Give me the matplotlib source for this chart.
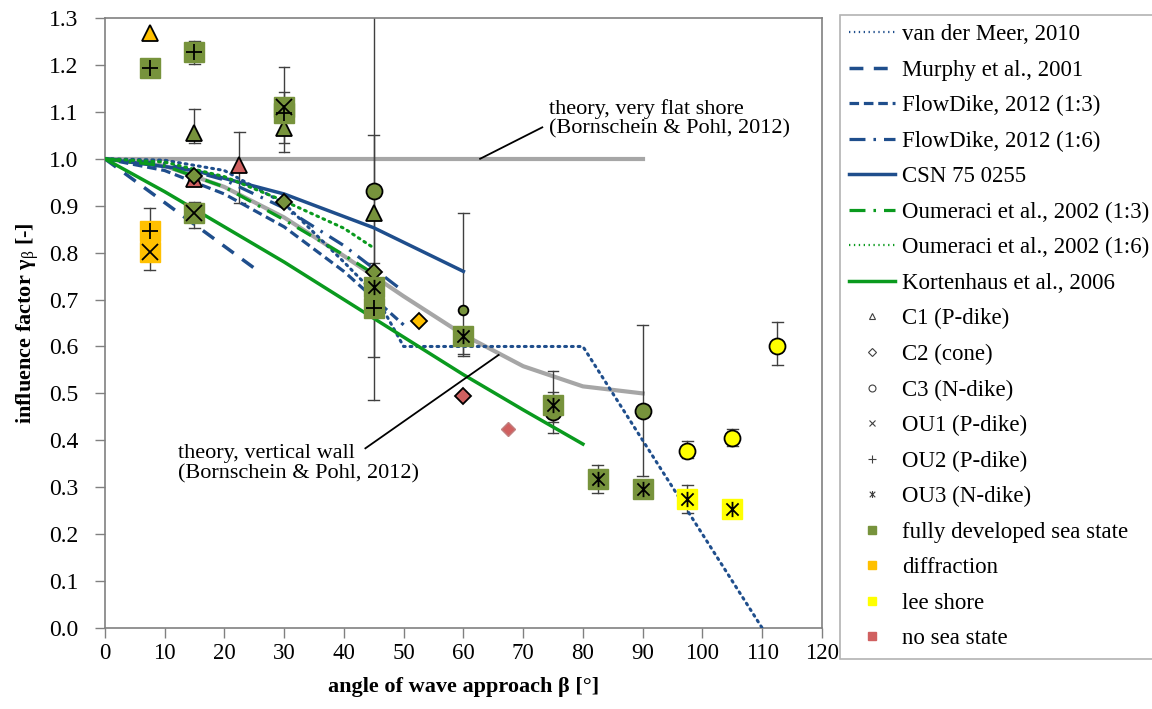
import numpy as np
import matplotlib
matplotlib.use("Agg")
import matplotlib.pyplot as plt
from matplotlib.lines import Line2D
from matplotlib.path import Path

plt.rcParams['font.family'] = ['Liberation Serif', 'DejaVu Serif']
plt.rcParams['mathtext.fontset'] = 'custom'
plt.rcParams['mathtext.rm'] = 'Liberation Serif'
plt.rcParams['mathtext.it'] = 'Liberation Serif:italic'
plt.rcParams['mathtext.bf'] = 'Liberation Serif:bold'

# =====================================================
# DATA
# =====================================================

# design formulae
vdm_x = [0, 10, 20, 30, 40, 45, 50, 80, 110]
vdm_y = [1.0, 0.997, 0.975, 0.905, 0.78, 0.715, 0.60, 0.60, 0.0]

murphy_x = [0, 25]
murphy_y = [1.0, 0.767]

fd13_x = [0, 10, 20, 30, 40, 50]
fd13_y = [1.0, 0.975, 0.925, 0.855, 0.76, 0.646]

fd16_x = [0, 10, 20, 30, 40, 49]
fd16_y = [1.0, 0.99, 0.955, 0.895, 0.815, 0.727]

csn_x = [0, 15, 30, 45, 60]
csn_y = [1.0, 0.975, 0.925, 0.853, 0.76]

oum13_x = [0, 10, 20, 30, 40, 45]
oum13_y = [1.0, 0.985, 0.94, 0.87, 0.795, 0.755]

oum16_x = [0, 10, 20, 30, 40, 45]
oum16_y = [1.0, 0.993, 0.962, 0.91, 0.852, 0.81]

kort_x = [0, 10, 20, 30, 40, 50, 60, 70, 80]
kort_y = [1.0, 0.93, 0.855, 0.78, 0.70, 0.62, 0.54, 0.465, 0.392]

# theory (Bornschein & Pohl, 2012)
flat_x = [0, 90]
flat_y = [1.0, 1.0]

wall_x = [0, 10, 20, 30, 40, 50, 60, 70, 80, 90]
wall_y = [1.0, 0.985, 0.94, 0.875, 0.793, 0.707, 0.625, 0.558, 0.515, 0.50]

# measurements: C1 triangle, C2 diamond, C3 circle, OU1 x, OU2 +, OU3 asterisk
c1_full_x = [15, 30, 45]
c1_full_y = [1.055, 1.066, 0.885]
c1_diff_x = [7.5]
c1_diff_y = [1.268]
c1_none_x = [15, 22.5]
c1_none_y = [0.957, 0.987]

c2_full_x = [15, 30, 45]
c2_full_y = [0.963, 0.907, 0.759]
c2_diff_x = [52.5]
c2_diff_y = [0.655]
c2_none_x = [60, 67.5]
c2_none_y = [0.494, 0.424]

c3_full_x = [45, 60, 75, 90]
c3_full_y = [0.932, 0.677, 0.46, 0.463]
c3_lee_x = [97.5, 105, 112.5]
c3_lee_y = [0.377, 0.405, 0.601]

ou1_full_x = [15, 30]
ou1_full_y = [0.885, 1.11]
ou1_diff_x = [7.5]
ou1_diff_y = [0.802]

ou2_full_x = [7.5, 15, 30, 45]
ou2_full_y = [1.194, 1.227, 1.097, 0.683]
ou2_diff_x = [7.5]
ou2_diff_y = [0.847]

ou3_full_x = [45, 60, 75, 82.5, 90]
ou3_full_y = [0.727, 0.622, 0.475, 0.318, 0.297]
ou3_lee_x = [97.5, 105]
ou3_lee_y = [0.275, 0.253]

# error bar ranges (x, lower, upper)
err_x = [7.5, 7.5, 15, 15, 15, 22.5, 30, 30, 30, 45, 45, 45,
         60, 60, 75, 75, 82.5, 90, 97.5, 97.5, 105, 112.5]
err_lo = [0.797, 0.763, 1.203, 1.034, 0.852, 0.906, 1.051, 1.015, 1.034, 0.486, 0.578, 0.742,
          0.584, 0.58, 0.416, 0.44, 0.288, 0.324, 0.362, 0.245, 0.388, 0.561]
err_hi = [0.895, 0.84, 1.252, 1.106, 0.908, 1.058, 1.143, 1.196, 1.098, 1.40, 1.051, 0.778,
          0.885, 0.642, 0.548, 0.503, 0.348, 0.646, 0.399, 0.305, 0.424, 0.652]

# =====================================================
# STYLE
# =====================================================

BLUE = "#1f4e8c"
GREEN = "#0a9a1e"
GREY = "#a6a6a6"
C_FULL = "#77933c"
C_DIFF = "#ffc000"
C_LEE = "#ffff00"
C_NONE = "#d06060"

asterisk = Path(
    [(-1, -1), (1, 1), (-1, 1), (1, -1), (0, -1.25), (0, 1.25)],
    [Path.MOVETO, Path.LINETO, Path.MOVETO, Path.LINETO, Path.MOVETO, Path.LINETO]
)

fig = plt.figure(figsize=(11.52, 7.09), dpi=100)
ax = fig.add_axes([0.091, 0.1142, 0.6225, 0.8604])

# error bars
for x, lo, hi in zip(err_x, err_lo, err_hi):
    ax.plot([x, x], [lo, hi], color="#404040", lw=1.0, zorder=2)
    for v in (lo, hi):
        ax.plot([x - 0.9, x + 0.9], [v, v], color="#404040", lw=1.0, zorder=2)

# theory lines
ax.plot(flat_x, flat_y, color=GREY, lw=3, zorder=1)
ax.plot(wall_x, wall_y, color=GREY, lw=3, zorder=1)

# formulae
ax.plot(vdm_x, vdm_y, color=BLUE, lw=2.2, linestyle=(0, (0.6, 1.6)), dash_capstyle="round", zorder=3)
ax.plot(murphy_x, murphy_y, color=BLUE, lw=2.5, linestyle=(0, (4, 3)), zorder=3)
ax.plot(fd13_x, fd13_y, color=BLUE, lw=2.3, linestyle=(0, (3, 1.5)), zorder=3)
ax.plot(fd16_x, fd16_y, color=BLUE, lw=2.3, linestyle=(0, (5, 2.5, 0.8, 2.5)), zorder=3)
ax.plot(csn_x, csn_y, color=BLUE, lw=2.5, zorder=3)
ax.plot(oum13_x, oum13_y, color=GREEN, lw=2.3, linestyle=(0, (5, 2.5, 0.8, 2.5)), zorder=3)
ax.plot(oum16_x, oum16_y, color=GREEN, lw=2.2, linestyle=(0, (0.6, 1.6)), dash_capstyle="round", zorder=3)
ax.plot(kort_x, kort_y, color=GREEN, lw=2.5, zorder=3)


def shapes(xs, ys, marker, color, ms):
    ax.plot(xs, ys, linestyle="none", marker=marker, markersize=ms,
            markerfacecolor=color, markeredgecolor="black", markeredgewidth=1.3, zorder=5)


def boxed(xs, ys, marker, color):
    ax.plot(xs, ys, linestyle="none", marker="s", markersize=14,
            markerfacecolor=color, markeredgecolor=color, zorder=5)
    ax.plot(xs, ys, linestyle="none", marker=marker, markersize=11,
            markeredgecolor="black", markerfacecolor="none", markeredgewidth=1.3, zorder=6)


shapes(c1_full_x, c1_full_y, "^", C_FULL, 12)
shapes(c1_diff_x, c1_diff_y, "^", C_DIFF, 12)
shapes(c1_none_x, c1_none_y, "^", C_NONE, 12)
shapes(c2_full_x, c2_full_y, "D", C_FULL, 8.5)
shapes(c2_diff_x, c2_diff_y, "D", C_DIFF, 8.5)
shapes(c2_none_x[:1], c2_none_y[:1], "D", C_NONE, 8.5)
ax.plot(c2_none_x[1:], c2_none_y[1:], linestyle="none", marker="D", markersize=7,
        markerfacecolor=C_NONE, markeredgecolor="#c08080", zorder=5)
for x, y in zip(c3_full_x, c3_full_y):
    shapes([x], [y], "o", C_FULL, 7 if x == 60 else 11.5)
shapes(c3_lee_x, c3_lee_y, "o", C_LEE, 11.5)

boxed(ou1_full_x, ou1_full_y, "x", C_FULL)
boxed(ou1_diff_x, ou1_diff_y, "x", C_DIFF)
boxed(ou2_full_x, ou2_full_y, "+", C_FULL)
boxed(ou2_diff_x, ou2_diff_y, "+", C_DIFF)
boxed(ou3_full_x, ou3_full_y, asterisk, C_FULL)
boxed(ou3_lee_x, ou3_lee_y, asterisk, C_LEE)

# annotations
ax.plot([62.8, 73.2], [1.0, 1.067], color="black", lw=1.3, zorder=4)
ax.text(74.3, 1.085, "theory, very flat shore\n(Bornschein & Pohl, 2012)",
        fontsize=16, va="center", ha="left", linespacing=1.05)
ax.plot([43.6, 65.9], [0.383, 0.582], color="black", lw=1.3, zorder=4)
ax.text(12.2, 0.35, "theory, vertical wall\n(Bornschein & Pohl, 2012)",
        fontsize=16, va="center", ha="left", linespacing=1.05)

# axes
ax.set_xlim(0, 120)
ax.set_ylim(0, 1.3)
ax.set_xticks(np.arange(0, 121, 10))
ax.set_yticks(np.arange(0, 1.31, 0.1))
ax.set_yticklabels([f"{v:.1f}" for v in np.arange(0, 1.31, 0.1)])
ax.tick_params(direction="out", length=7, width=1, color="#808080", labelsize=16.5)
ax.tick_params(axis="y", pad=12, labelsize=17)
ax.tick_params(axis="x", pad=4)
for s in ax.spines.values():
    s.set_color("#808080")
    s.set_linewidth(1.2)

ax.set_xlabel("angle of wave approach β [°]", fontsize=16, fontweight="bold", labelpad=9)
ax.set_ylabel(r"influence factor γ$_\mathrm{β}$ [-]", fontsize=16, fontweight="bold", labelpad=6)

# legend
handles = [
    Line2D([], [], color=BLUE, lw=1.6, linestyle=(0, (0.6, 1.6))),
    Line2D([], [], color=BLUE, lw=2.5, linestyle=(0, (4, 3))),
    Line2D([], [], color=BLUE, lw=2.3, linestyle=(0, (3, 1.5))),
    Line2D([], [], color=BLUE, lw=2.3, linestyle=(0, (5, 2.5, 0.8, 2.5))),
    Line2D([], [], color=BLUE, lw=2.5),
    Line2D([], [], color=GREEN, lw=2.3, linestyle=(0, (5, 2.5, 0.8, 2.5))),
    Line2D([], [], color=GREEN, lw=1.6, linestyle=(0, (0.6, 1.6))),
    Line2D([], [], color=GREEN, lw=2.5),
    Line2D([], [], ls="none", marker="^", ms=5, mfc="white", mec="#404040", mew=0.8),
    Line2D([], [], ls="none", marker="D", ms=4, mfc="white", mec="#404040", mew=0.8),
    Line2D([], [], ls="none", marker="o", ms=5, mfc="white", mec="#404040", mew=0.8),
    Line2D([], [], ls="none", marker="x", ms=5, mec="#404040", mew=0.8),
    Line2D([], [], ls="none", marker="+", ms=6, mec="#404040", mew=0.8),
    Line2D([], [], ls="none", marker=asterisk, ms=5, mec="#404040", mew=0.8),
    Line2D([], [], ls="none", marker="s", ms=6, mfc=C_FULL, mec=C_FULL),
    Line2D([], [], ls="none", marker="s", ms=6, mfc=C_DIFF, mec=C_DIFF),
    Line2D([], [], ls="none", marker="s", ms=6, mfc=C_LEE, mec=C_LEE),
    Line2D([], [], ls="none", marker="s", ms=6, mfc=C_NONE, mec=C_NONE),
]
labels = [
    "van der Meer, 2010", "Murphy et al., 2001", "FlowDike, 2012 (1:3)",
    "FlowDike, 2012 (1:6)", "CSN 75 0255", "Oumeraci et al., 2002 (1:3)",
    "Oumeraci et al., 2002 (1:6)", "Kortenhaus et al., 2006",
    "C1 (P-dike)", "C2 (cone)", "C3 (N-dike)", "OU1 (P-dike)", "OU2 (P-dike)",
    "OU3 (N-dike)", "fully developed sea state", "diffraction", "lee shore", "no sea state",
]
leg = fig.legend(handles, labels, loc="upper left", bbox_to_anchor=(0.729, 0.979),
                 fontsize=16.5, frameon=True, fancybox=False, edgecolor="#a0a0a0",
                 handlelength=2.0, handletextpad=0.3, labelspacing=0.63,
                 borderpad=0.4, borderaxespad=0)
leg.get_frame().set_linewidth(1.2)

fig.savefig("out.png", dpi=100)
